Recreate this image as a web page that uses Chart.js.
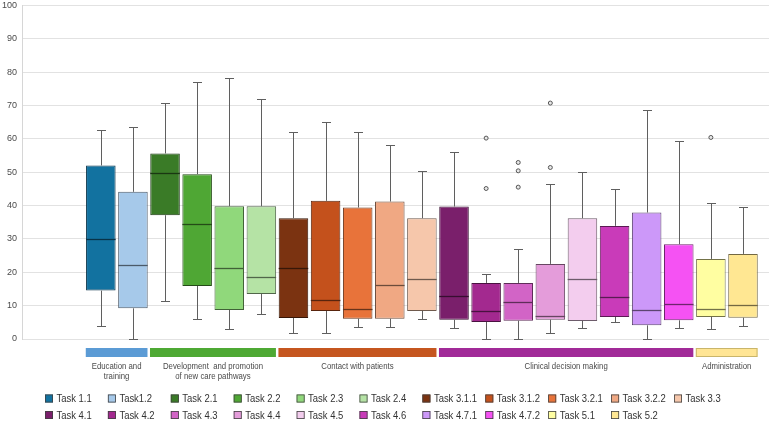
<!DOCTYPE html>
<html><head><meta charset="utf-8">
<script src="https://cdn.jsdelivr.net/npm/chart.js@4.4.1/dist/chart.umd.min.js"></script>
<style>html,body{margin:0;padding:0;background:#fff}#wrap{width:775px;height:423px;position:relative}</style>
</head><body><div id="wrap"><canvas id="c"></canvas></div>
<script>
// ---- data ----
const tasks = ["Task 1.1","Task1.2","Task 2.1","Task 2.2","Task 2.3","Task 2.4","Task 3.1.1","Task 3.1.2","Task 3.2.1","Task 3.2.2","Task 3.3",
               "Task 4.1","Task 4.2","Task 4.3","Task 4.4","Task 4.5","Task 4.6","Task 4.7.1","Task 4.7.2","Task 5.1","Task 5.2"];
const whiskerLow  = [3.9, 0,    11.4, 6.0,  3.0,  7.5,  1.8,  1.7,  3.7,  3.7,  6.0,  3.2,  0,    0,    1.7,  3.2,  5.1,  0,    3.3,  3.0,  3.9];
const quart1      = [14.5,9.2,  37.1, 15.9, 8.7,  13.5, 6.3,  8.4,  6.1,  6.1,  8.4,  5.8,  5.1,  5.5,  5.8,  5.4,  6.6,  4.1,  5.6,  6.6,  6.4];
const medians     = [30.1,22.2, 49.7, 34.4, 21.3, 18.6, 21.3, 11.7, 9.0,  16.3, 18.1, 12.9, 8.5,  11.2, 7.0,  18.0, 12.5, 8.8,  10.5, 9.0,  10.2];
const quart3      = [52.0,44.1, 55.6, 49.4, 39.8, 39.8, 36.2, 41.4, 39.4, 41.2, 36.2, 39.7, 16.8, 16.8, 22.5, 36.2, 33.9, 37.9, 28.4, 24.0, 25.5];
const whiskerHigh = [62.5,63.5, 70.8, 76.9, 78.1, 72.0, 62.0, 65.1, 61.9, 58.0, 50.2, 56.0, 19.5, 27.1, 46.5, 50.0, 44.9, 68.6, 59.3, 40.9, 39.5];
const outliers    = [[],[],[],[],[],[],[],[],[],[],[],[],[60.2,45.1],[52.9,50.4,45.5],[70.7,51.4],[],[],[],[],[60.4],[]];
const groupLabels = [["Education and","training"],["Development  and promotion","of new care pathways"],["Contact with patients"],["Clinical decision making"],["Administration"]];
const groupFirst  = [0, 2, 6, 11, 19];
const groupLast   = [1, 5, 10, 18, 20];
const yTickStep = 10, yMin = 0, yMax = 100;

// ---- styles ----
const taskColors = ["#1272a0","#a6c9ea","#3a7b27","#4fa734","#90d87b","#b5e3a5","#7b3311","#c4511c","#e8733a","#f0a883","#f6c7ab",
                    "#7a1f6b","#a3298f","#d264c6","#e49cda","#f3cdee","#c93bb9","#cc98f9","#f552f3","#fffea1","#ffe792"];
const groupColors = ["#5b9bd5","#4ea934","#c5561f","#a12a98","#ffe594"];
function shade(hex, f){
  const n = parseInt(hex.slice(1),16);
  const r = Math.round(((n>>16)&255)*f), g = Math.round(((n>>8)&255)*f), b = Math.round((n&255)*f);
  return `rgb(${r},${g},${b})`;
}
const FONT = '"Liberation Sans",Arial,sans-serif';

const boxData = tasks.map((t,i)=>({x:i, y:[quart1[i], quart3[i]]}));
const outlierData = [];
outliers.forEach((arr,i)=>arr.forEach(v=>outlierData.push({x:i, y:v})));

function narrowText(ctx, s, x, y, sx){
  ctx.save(); ctx.translate(x, y); ctx.scale(sx, 1); ctx.fillText(s, 0, 0); ctx.restore();
}

const extras = {
  id:'boxExtras',
  afterDatasetsDraw(chart){
    const {ctx, scales:{y}} = chart;
    const meta = chart.getDatasetMeta(0);
    ctx.save();
    for(let i=0;i<tasks.length;i++){
      const bar = meta.data[i];
      const cx = Math.round(bar.x)+0.5, hw = bar.width/2;
      const yq1 = y.getPixelForValue(quart1[i]), yq3 = y.getPixelForValue(quart3[i]);
      const ylo = Math.round(y.getPixelForValue(whiskerLow[i]))+0.5, yhi = Math.round(y.getPixelForValue(whiskerHigh[i]))+0.5;
      ctx.strokeStyle = '#5f5f5f'; ctx.lineWidth = 1;
      ctx.beginPath();
      ctx.moveTo(cx, yq3); ctx.lineTo(cx, yhi);
      ctx.moveTo(cx-4.5, yhi); ctx.lineTo(cx+4.5, yhi);
      ctx.moveTo(cx, yq1); ctx.lineTo(cx, ylo);
      ctx.moveTo(cx-4.5, ylo); ctx.lineTo(cx+4.5, ylo);
      ctx.stroke();
      const ym = Math.round(y.getPixelForValue(medians[i]))+0.5;
      ctx.strokeStyle = shade(taskColors[i], 0.45); ctx.lineWidth = 1.3;
      ctx.beginPath(); ctx.moveTo(bar.x-hw, ym); ctx.lineTo(bar.x+hw, ym); ctx.stroke();
    }
    ctx.restore();
  },
  afterDraw(chart){
    const {ctx, scales:{x}} = chart;
    const step = x.getPixelForValue(1) - x.getPixelForValue(0);
    ctx.save();
    // group bars
    const barTop = chart.chartArea.bottom + 9, barH = 9;
    for(let g=0; g<groupFirst.length; g++){
      const l = x.getPixelForValue(groupFirst[g]) - step/2 + 1;
      const r = x.getPixelForValue(groupLast[g]) + step/2 - 1.5;
      ctx.fillStyle = groupColors[g];
      ctx.fillRect(l, barTop, r-l, barH);
      if(g===4){ ctx.strokeStyle = '#c9b56a'; ctx.lineWidth=1; ctx.strokeRect(l+0.5, barTop+0.5, r-l-1, barH-1); }
      ctx.fillStyle = '#4a4a4a'; ctx.font = '9.5px '+FONT; ctx.textAlign='center'; ctx.textBaseline='middle';
      groupLabels[g].forEach((s,k)=>narrowText(ctx, s, (l+r)/2, barTop + barH + 9 + k*10, 0.82));
    }
    // legend
    ctx.font = '11px '+FONT; ctx.textAlign='left'; ctx.textBaseline='middle';
    for(let i=0;i<tasks.length;i++){
      const row = i<11 ? 0 : 1, col = i<11 ? i : i-11;
      const lx = 45 + col*62.9, ly = 398.5 + row*16.5;
      ctx.fillStyle = taskColors[i];
      ctx.fillRect(lx, ly-4, 8, 8);
      ctx.strokeStyle = '#404040'; ctx.lineWidth = 0.8; ctx.strokeRect(lx+0.4, ly-3.6, 7.2, 7.2);
      ctx.fillStyle = '#333';
      narrowText(ctx, tasks[i], lx+11.5, ly+0.5, 0.86);
    }
    ctx.restore();
  }
};

new Chart(document.getElementById('c'), {
  type:'bar',
  data:{ datasets:[
    { label:'box', data: boxData, backgroundColor: taskColors, borderColor: taskColors.map(c=>shade(c,0.45)),
      borderWidth:1, borderSkipped:false, barPercentage:0.92, categoryPercentage:1, order:2 },
    { type:'scatter', label:'outliers', data: outlierData, pointRadius:2, pointBorderWidth:1,
      pointBackgroundColor:'#e8e8e8', pointBorderColor:'#555', order:1 }
  ]},
  plugins:[extras],
  options:{
    responsive:true, maintainAspectRatio:false, animation:false,
    layout:{ padding:{ left:0, right:6, top:0, bottom:84 } },
    plugins:{ legend:{display:false}, tooltip:{enabled:false} },
    scales:{
      x:{ type:'linear', min:-2.455, max:20.81, offset:false, display:false },
      y:{ min:yMin, max:yMax, ticks:{ stepSize:yTickStep, padding:5, color:'#4a4a4a', font:{size:9, family:FONT} },
          grid:{ color:'#e2e2e2', drawTicks:false }, border:{ color:'#d6d6d6' },
          afterFit(scale){ scale.width = 22; scale.paddingTop = 5.3; scale.paddingBottom = 0; } }
    }
  }
});
</script></body></html>
